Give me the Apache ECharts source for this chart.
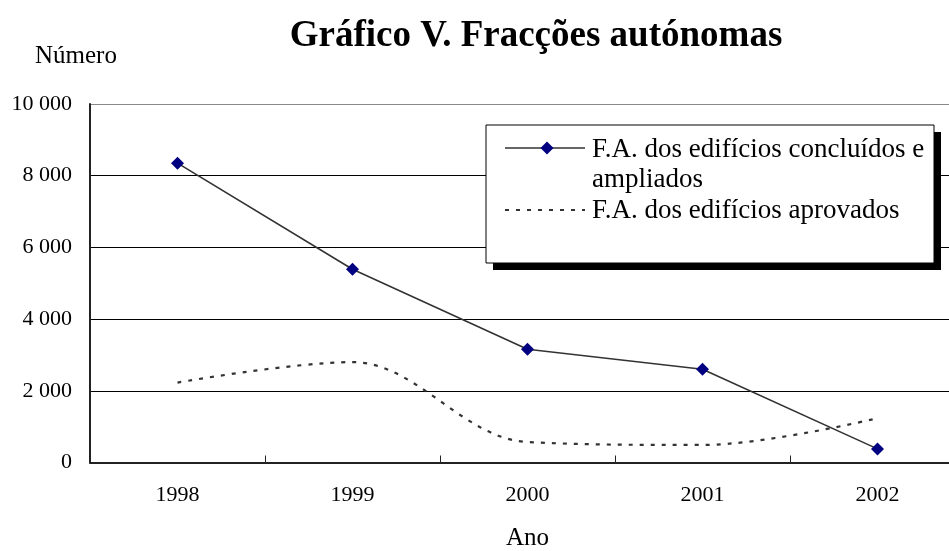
<!DOCTYPE html>
<html>
<head>
<meta charset="utf-8">
<script src="https://cdn.jsdelivr.net/npm/echarts@6/dist/echarts.min.js"></script>
<style>html,body{margin:0;padding:0;background:#fff}#c{width:949px;height:551px}</style>
</head>
<body>
<div id="c"></div>
<script>
var categories = ['1998', '1999', '2000', '2001', '2002'];
var concluidos = [8350, 5390, 3160, 2600, 380];
var aprovados = [2230, 2800, 570, 490, 1235];
var yTicks = [0, 2000, 4000, 6000, 8000, 10000];
var seriesNames = ['F.A. dos edifícios concluídos e\nampliados', 'F.A. dos edifícios aprovados'];

var FONT = '"Liberation Serif", "Times New Roman", serif';
var chart = echarts.init(document.getElementById('c'));

function fmt(v) {
  var s = String(v);
  return s.replace(/\B(?=(\d{3})+(?!\d))/g, ' ');
}

var lgX = 486, lgY = 125, lgW = 448, lgH = 138;
var option = {
  animation: false,
  backgroundColor: '#fff',
  title: [
    { text: 'Gráfico V. Fracções autónomas', left: 531, top: 13, textAlign: 'center',
      textStyle: { fontFamily: FONT, fontSize: 37, fontWeight: 'bold', color: '#000' } },
    { text: 'Número', left: 30, top: 39,
      textStyle: { fontFamily: FONT, fontSize: 25, fontWeight: 'normal', color: '#000' } }
  ],
  grid: { left: 90, top: 104, width: 875, height: 358.5, containLabel: false, outerBoundsMode: 'none' },
  xAxis: {
    type: 'category',
    data: categories,
    boundaryGap: true,
    name: 'Ano',
    nameLocation: 'middle',
    nameGap: 63,
    nameTextStyle: { fontFamily: FONT, fontSize: 25, color: '#000', verticalAlign: 'top' },
    axisLine: { lineStyle: { color: '#222', width: 2 } },
    axisTick: { show: true, inside: true, length: 7, lineStyle: { color: '#222', width: 1 } },
    axisLabel: { fontFamily: FONT, fontSize: 22, color: '#000', margin: 22 },
    splitLine: { show: false }
  },
  yAxis: {
    type: 'value',
    min: yTicks[0],
    max: yTicks[yTicks.length - 1],
    interval: yTicks[1] - yTicks[0],
    axisLine: { show: true, lineStyle: { color: '#222', width: 2 } },
    axisTick: { show: false },
    axisLabel: { fontFamily: FONT, fontSize: 22, color: '#000', margin: 18, formatter: fmt },
    splitLine: { show: true, lineStyle: { color: ['#000', '#000', '#000', '#000', '#000', '#888'], width: 1 } }
  },
  series: [
    {
      name: seriesNames[0],
      type: 'line',
      data: concluidos,
      symbol: 'diamond',
      symbolSize: 13,
      itemStyle: { color: '#000080' },
      lineStyle: { color: '#333', width: 1.6 },
      z: 3
    },
    {
      name: seriesNames[1],
      type: 'line',
      data: aprovados,
      smooth: 0.35,
      symbol: 'none',
      lineStyle: { color: '#333', width: 2.2, type: [4, 7] },
      z: 2
    }
  ],
  graphic: [
    { type: 'rect', shape: { x: lgX + 7, y: lgY + 7, width: lgW, height: lgH }, style: { fill: '#000' }, z: 10 },
    { type: 'rect', shape: { x: lgX, y: lgY, width: lgW, height: lgH }, style: { fill: '#fff', stroke: '#000', lineWidth: 1 }, z: 11 },
    { type: 'line', shape: { x1: 505, y1: 148, x2: 585, y2: 148 }, style: { stroke: '#333', lineWidth: 1.6 }, z: 12 },
    { type: 'polygon', shape: { points: [[547, 141.5], [553.5, 148], [547, 154.5], [540.5, 148]] }, style: { fill: '#000080' }, z: 13 },
    { type: 'line', shape: { x1: 505, y1: 210, x2: 585, y2: 210 }, style: { stroke: '#333', lineWidth: 2, lineDash: [4, 7] }, z: 12 },
    { type: 'text', x: 592, y: 134.5, style: { text: seriesNames[0], font: '27px ' + FONT, fill: '#000', verticalAlign: 'top', lineHeight: 30 }, z: 12 },
    { type: 'text', x: 592, y: 211, style: { text: seriesNames[1], font: '27px ' + FONT, fill: '#000', verticalAlign: 'middle' }, z: 12 }
  ]
};
chart.setOption(option);
</script>
</body>
</html>
